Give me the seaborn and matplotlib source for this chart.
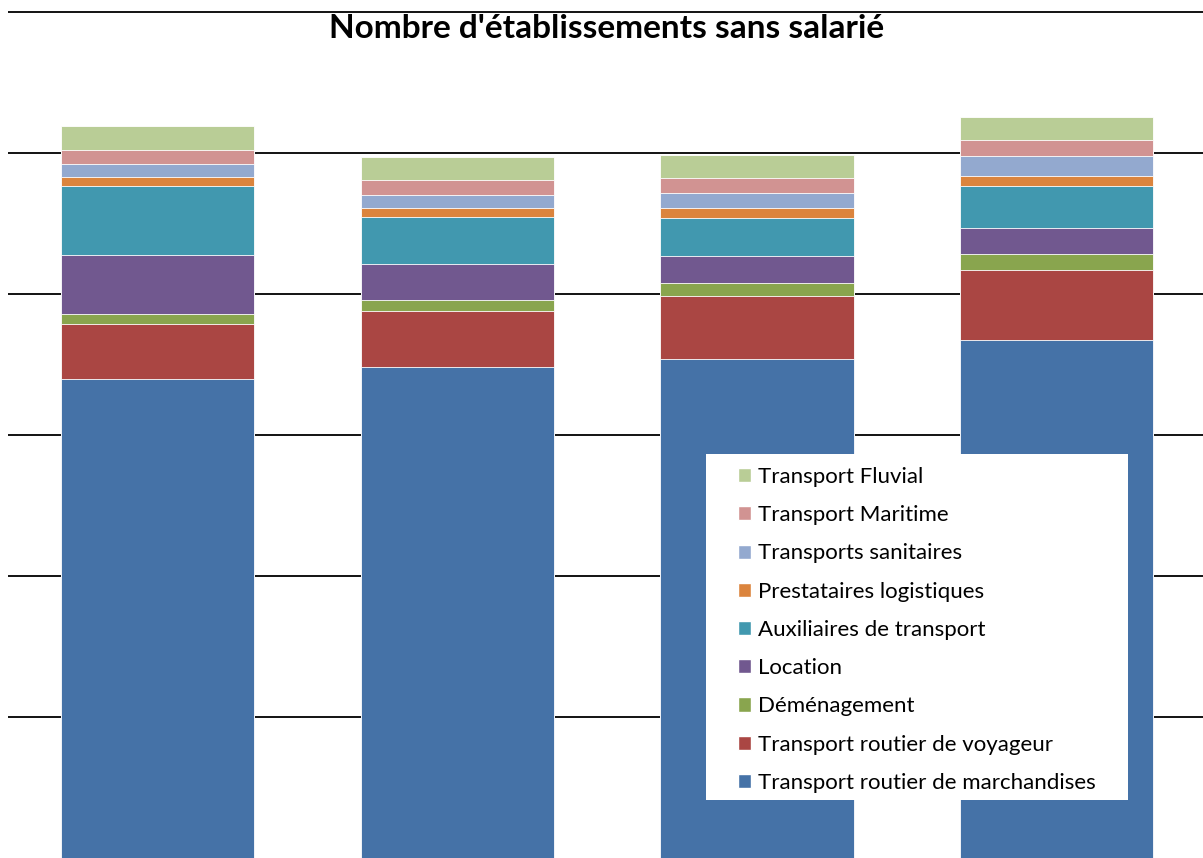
import numpy as np
import pandas as pd
import matplotlib
matplotlib.use("Agg")
import matplotlib.pyplot as plt
from matplotlib.patches import Patch, Rectangle
import seaborn as sns

# Données (échelle arbitraire : une ligne de grille = 1000)
categories = ["A", "B", "C", "D"]
series = ["Transport routier de marchandises", "Transport routier de voyageur",
          "Déménagement", "Location", "Auxiliaires de transport",
          "Prestataires logistiques", "Transports sanitaires",
          "Transport Maritime", "Transport Fluvial"]
marchandises = [3397, 3480, 3539, 3672]
voyageur = [387, 397, 445, 499]
demenagement = [74, 80, 92, 116]
location = [422, 255, 191, 184]
auxiliaires = [489, 333, 274, 298]
logistiques = [60, 64, 71, 68]
sanitaires = [92, 94, 106, 142]
maritime = [103, 106, 106, 113]
fluvial = [170, 163, 161, 161]
values = [marchandises, voyageur, demenagement, location, auxiliaires,
          logistiques, sanitaires, maritime, fluvial]
colors = ["#4572A7", "#AA4643", "#89A54E", "#71588F", "#4198AF",
          "#DB843D", "#93A9CF", "#D19392", "#B9CD96"]

sns.set_style("white")
plt.rcParams["font.family"] = ["Lato", "DejaVu Sans"]
plt.rcParams["text.color"] = "black"

W, H = 1203, 858
fig = plt.figure(figsize=(W / 100, H / 100), dpi=100)
ax = fig.add_axes([8 / W, 0, 1 - 8 / W, 1])

# barres empilées : on dessine les cumuls du plus haut au plus bas
cum = np.cumsum(np.array(values), axis=0)
for i in range(len(series) - 1, -1, -1):
    sns.barplot(x=categories, y=cum[i], color=colors[i], width=0.644,
                saturation=1, edgecolor="#ffffff", linewidth=0.6, ax=ax)

ax.set_xlim(-0.499, 3.488)
ax.set_ylim(0, H / 141 * 1000)
ax.set_yticks([1000, 2000, 3000, 4000, 5000, 6000])
ax.yaxis.grid(True, color="black", linewidth=1.3)
ax.set_axisbelow(True)
ax.tick_params(left=False, bottom=False, labelleft=False, labelbottom=False)
for s in ax.spines.values():
    s.set_visible(False)
ax.set_xlabel("")
ax.set_ylabel("")

fig.text(607 / W, 1 - 38 / H, "Nombre d'établissements sans salarié",
         ha="center", va="baseline", fontsize=24, fontweight="bold",
         color="black")

# cadre blanc de la légende
fig.patches.append(Rectangle((706 / W, 1 - 800 / H), 422 / W, 346 / H,
                             transform=fig.transFigure, facecolor="white",
                             edgecolor="none", zorder=2))
handles = [Patch(facecolor=colors[i]) for i in range(len(series) - 1, -1, -1)]
labels = [series[i] for i in range(len(series) - 1, -1, -1)]
leg = fig.legend(handles, labels, loc="upper left",
                 bbox_to_anchor=(738 / W, 1 - 467 / H), frameon=False,
                 fontsize=16, borderpad=0, borderaxespad=0,
                 handlelength=0.6, handleheight=0.6, handletextpad=0.3,
                 labelspacing=0.82, labelcolor="black")
leg.set_zorder(3)

fig.savefig("out.png", dpi=100)
